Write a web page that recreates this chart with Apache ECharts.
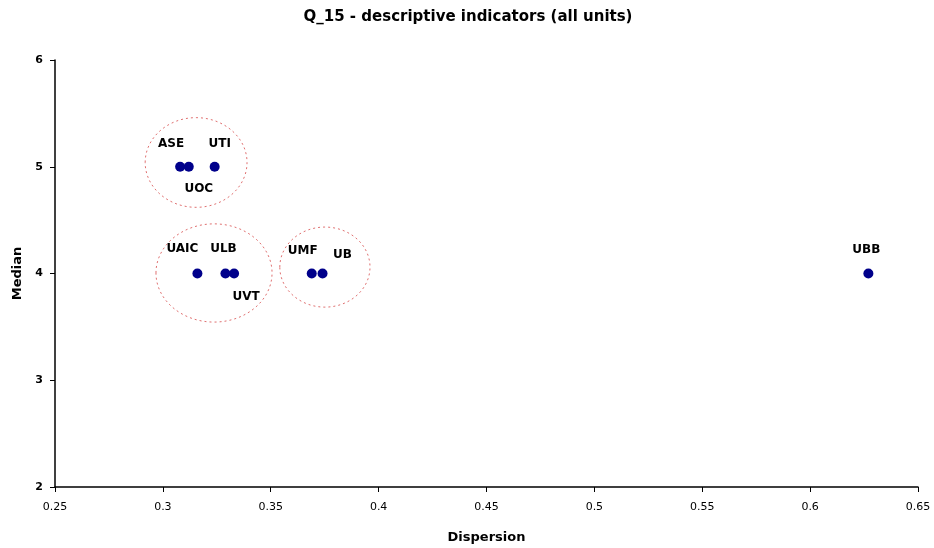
<!DOCTYPE html>
<html>
<head>
<meta charset="utf-8">
<script src="https://cdn.jsdelivr.net/npm/echarts@6/dist/echarts.min.js"></script>
<style>html,body{margin:0;padding:0;background:#fff}#c{width:934px;height:548px}</style>
</head>
<body>
<div id="c"></div>
<script>
var names = ['ASE', 'UOC', 'UTI', 'UAIC', 'ULB', 'UVT', 'UMF', 'UB', 'UBB'];
var dispersion = [0.308, 0.312, 0.324, 0.316, 0.329, 0.333, 0.369, 0.374, 0.627];
var median = [5, 5, 5, 4, 4, 4, 4, 4, 4];
// groups circled: center x, center y, radius x, radius y (data units)
var groupCx = [0.3154, 0.3237, 0.3751];
var groupCy = [5.04, 4.005, 4.06];
var groupRx = [0.0236, 0.0269, 0.0209];
var groupRy = [0.42, 0.46, 0.375];

var labelOffsets = {
  ASE: [-9, -23], UOC: [10, 22], UTI: [5, -23], UAIC: [-15, -25], ULB: [-2, -25],
  UVT: [12, 23], UMF: [-9, -23], UB: [20, -19], UBB: [-2, -24]
};

var points = names.map(function (n, i) {
  return {
    name: n, value: [dispersion[i], median[i]],
    label: { offset: labelOffsets[n] }
  };
});
var ellipses = groupCx.map(function (cx, i) { return [cx, groupCy[i], groupRx[i], groupRy[i]]; });

var chart = echarts.init(document.getElementById('c'), null, { renderer: 'canvas' });
var wide = 'DejaVu Sans, Verdana, sans-serif';
chart.setOption({
  animation: false,
  backgroundColor: '#fff',
  title: {
    text: 'Q_15 - descriptive indicators (all units)',
    left: 463, top: 5, textAlign: 'center',
    textStyle: { fontFamily: wide, fontSize: 15, fontWeight: 'bold', color: '#000' }
  },
  grid: { left: 55, right: 16, top: 60, bottom: 61, containLabel: false, outerBoundsMode: 'none' },
  xAxis: {
    type: 'value', min: 0.25, max: 0.65, interval: 0.05,
    name: 'Dispersion', nameLocation: 'middle', nameGap: 44,
    nameTextStyle: { fontFamily: wide, fontSize: 13, fontWeight: 'bold', color: '#000' },
    axisLine: { show: true, onZero: false, lineStyle: { color: '#000', width: 1.5 } },
    axisTick: { show: true, inside: false, length: 5, lineStyle: { color: '#000' } },
    axisLabel: { fontFamily: wide, fontSize: 11, color: '#000', margin: 15 },
    splitLine: { show: false }
  },
  yAxis: {
    type: 'value', min: 2, max: 6, interval: 1,
    name: 'Median', nameLocation: 'middle', nameGap: 29, nameRotate: 90,
    nameTextStyle: { fontFamily: wide, fontSize: 13, fontWeight: 'bold', color: '#000' },
    axisLine: { show: true, onZero: false, lineStyle: { color: '#000', width: 1.5 } },
    axisTick: { show: true, inside: false, length: 5, lineStyle: { color: '#000' } },
    axisLabel: { fontFamily: wide, fontSize: 11, fontWeight: 'bold', color: '#000', margin: 12 },
    splitLine: { show: false }
  },
  series: [
    {
      type: 'custom',
      data: ellipses,
      silent: true,
      z: 1,
      renderItem: function (params, api) {
        var c = api.coord([api.value(0), api.value(1)]);
        var s = api.size([api.value(2), api.value(3)]);
        return {
          type: 'ellipse',
          shape: { cx: c[0], cy: c[1], rx: s[0], ry: s[1] },
          style: { fill: null, stroke: '#e07070', lineWidth: 1, lineDash: [2, 3] }
        };
      }
    },
    {
      type: 'scatter',
      data: points,
      symbol: 'circle',
      symbolSize: 10,
      z: 3,
      itemStyle: { color: '#00008b', opacity: 1 },
      label: {
        show: true, position: 'inside', formatter: '{b}',
        fontFamily: wide, fontSize: 12, fontWeight: 'bold', color: '#000',
        textBorderWidth: 0
      }
    }
  ]
});
</script>
</body>
</html>
